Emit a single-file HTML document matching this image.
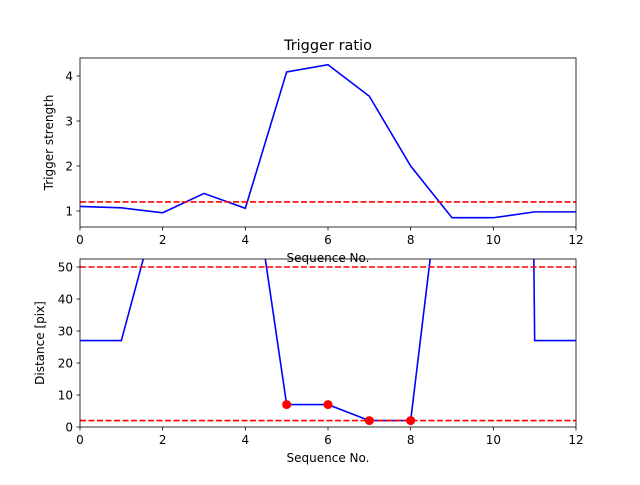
<!DOCTYPE html>
<html><head><meta charset="utf-8"><style>
body{margin:0;background:#fff}
text{font-family:"DejaVu Sans","Liberation Sans",sans-serif;fill:#000}
</style></head><body>
<svg id="c" width="640" height="480" viewBox="0 0 640 480">
<rect width="640" height="480" fill="#fff"/>
<defs>
<clipPath id="c1"><rect x="80" y="58" width="496" height="169"/></clipPath>
<clipPath id="c2"><rect x="80" y="259" width="496" height="168"/></clipPath>
</defs>
<text x="328" y="50" font-size="14.5" text-anchor="middle">Trigger ratio</text>
<g id="top"></g>
<g id="bot"></g>
</svg>
<script>
const seq = [0,1,2,3,4,5,6,7,8,9,10,11,12];
const strength = [1.1,1.07,0.96,1.39,1.06,4.09,4.25,3.55,2.0,0.85,0.85,0.98,0.98];
const strengthThreshold = [1.2];
const distance = [27,27,75,85,95,7,7,2,2,109,1300,27,27];
const distThresholds = [50,2];
const matchSeq = [5,6,7,8];
const matchDist = [7,7,2,2];
const xTicks = [0,2,4,6,8,10,12];
const topTicks = [1,2,3,4];
const botTicks = [0,10,20,30,40,50];

const NS="http://www.w3.org/2000/svg";
function mk(p,t,a){const e=document.createElementNS(NS,t);for(const k in a)e.setAttribute(k,a[k]);p.appendChild(e);return e;}
const xs=v=>80+(v-0)/12*496;
function panel(g,top,bot,ymin,ymax,ticks,ylabel,clip){
  const ys=v=>bot-(v-ymin)/(ymax-ymin)*(bot-top);
  xTicks.forEach(t=>{
    const l=mk(g,'line',{x1:xs(t),x2:xs(t),y1:bot,y2:bot+3.5,stroke:'#000','stroke-width':0.8});
    
    
    const tx=mk(g,'text',{x:xs(t),y:bot+17,'font-size':12,'text-anchor':'middle'});tx.textContent=t;
    
    
  });
  ticks.forEach(t=>{
    const l=mk(g,'line',{x1:76.5,x2:80,y1:ys(t),y2:ys(t),stroke:'#000','stroke-width':0.8});
    
    
    const tx=mk(g,'text',{x:73,y:ys(t)+4.5,'font-size':12,'text-anchor':'end'});tx.textContent=t;
    
    
  });
  const yl=mk(g,'text',{x:0,y:0,'font-size':12,'text-anchor':'middle',transform:`translate(${ylabel[1]},${(top+bot)/2}) rotate(-90)`});yl.textContent=ylabel[0];
  
  
  const xl=mk(g,'text',{x:328,y:bot+35,'font-size':12,'text-anchor':'middle'});xl.textContent='Sequence No.';
  
  
  const cg=mk(g,'g',{'clip-path':`url(#${clip})`});
  return {ys,cg,top,bot};
}
const T=document.getElementById('top'),B=document.getElementById('bot');
const p2=panel(B,259,427,0,52.5,botTicks,['Distance [pix]',44],'c2');
const p1=panel(T,58,227,0.644,4.4,topTicks,['Trigger strength',53],'c1');
// top series
const l1=mk(p1.cg,'polyline',{points:seq.map((s,i)=>xs(s)+','+p1.ys(strength[i])).join(' '),fill:'none',stroke:'#0000ff','stroke-width':1.6});


strengthThreshold.forEach(v=>{
  const l=mk(p1.cg,'line',{x1:80,x2:576,y1:p1.ys(v),y2:p1.ys(v),stroke:'#ff0000','stroke-width':1.6,'stroke-dasharray':'6,2.5'});
  
  
});
// bottom series
const l2=mk(p2.cg,'polyline',{points:seq.map((s,i)=>xs(s)+','+p2.ys(distance[i])).join(' '),fill:'none',stroke:'#0000ff','stroke-width':1.6});


distThresholds.forEach(v=>{
  const l=mk(p2.cg,'line',{x1:80,x2:576,y1:p2.ys(v),y2:p2.ys(v),stroke:'#ff0000','stroke-width':1.6,'stroke-dasharray':'6,2.5'});
  
  
});
matchSeq.forEach((s,i)=>{
  const c=mk(B,'circle',{cx:xs(s),cy:p2.ys(matchDist[i]),r:4.5,fill:'#ff0000'});
  
  
});
[[T,58,169],[B,259,168]].forEach(([g,y,h])=>{
  const r=mk(g,'rect',{x:80,y:y,width:496,height:h,fill:'none',stroke:'#000','stroke-width':0.8});
  
  
});
</script>
</body></html>
